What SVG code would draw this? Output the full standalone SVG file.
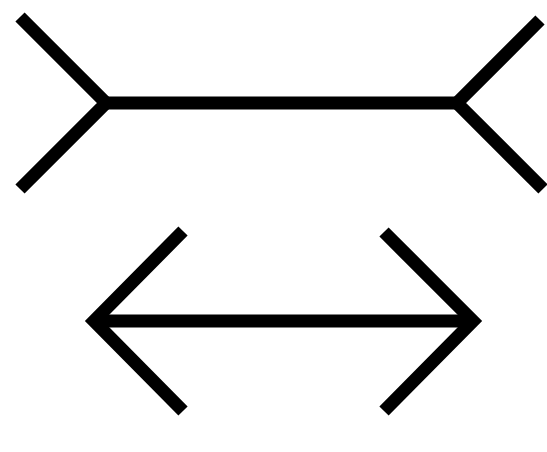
<svg xmlns="http://www.w3.org/2000/svg" width="547" height="452" viewBox="0 0 547 452">
<style>
.ln{fill:none;stroke:#000;stroke-width:13;stroke-linecap:butt;stroke-linejoin:miter;stroke-miterlimit:10}
</style>
<rect width="547" height="452" fill="#fff"/>
<g id="top-figure">
<polyline class="ln" points="20,17 106,103 20,189"/>
<line class="ln" x1="106" y1="103" x2="457" y2="103"/>
<polyline class="ln" points="540,20 457,103 543,189"/>
</g>
<g id="bottom-figure">
<polyline class="ln" points="183,231 94,321 183,411"/>
<line class="ln" x1="94" y1="321" x2="473" y2="321"/>
<polyline class="ln" points="384,232 473,321 384,411"/>
</g>
</svg>
